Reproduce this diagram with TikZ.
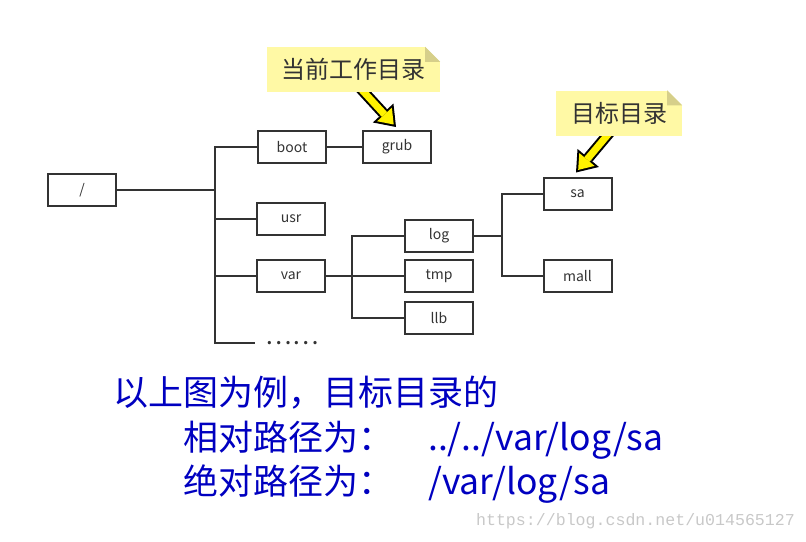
\documentclass[tikz,border=0pt]{standalone}
\usepackage{fontspec}
\setmainfont{Noto Sans CJK SC}
\newfontfamily\urlfont{Liberation Mono}
\usetikzlibrary{arrows.meta}
\usetikzlibrary{backgrounds}

\definecolor{wirecol}{RGB}{51,51,51}
\definecolor{notefill}{RGB}{255,249,165}
\definecolor{notefold}{RGB}{214,207,138}
\definecolor{pathblue}{RGB}{0,0,192}
\definecolor{markgray}{RGB}{200,200,200}

\tikzset{
  dirbox/.style={draw=wirecol, line width=2pt, minimum width=68pt,
    minimum height=32pt, inner sep=0pt, text=wirecol,
    font=\fontsize{14}{14}\selectfont},
  wire/.style={draw=wirecol, line width=2pt},
  note/.style={fill=notefill, minimum height=45pt, inner sep=0pt,
    text=wirecol, font=\fontsize{24}{24}\selectfont},
  pointer/.style={line width=11pt, black,
    -{Triangle[length=19pt,width=28pt,line width=0pt]}},
  pointerfill/.style={line width=7pt, yellow, shorten >=3.4pt,
    -{Triangle[length=13.6pt,width=20pt,line width=0pt]}},
  bigtext/.style={anchor=base west, inner sep=0pt, text=pathblue,
    font=\fontsize{35}{35}\selectfont}
}

\begin{document}
\begin{tikzpicture}[x=1pt,y=-1pt]
\useasboundingbox (0,0) rectangle (806,541);

\node[dirbox] (root) at (82,190) {/};
\node[dirbox] (boot) at (292,147) {boot};
\node[dirbox] (grub) at (397,147) {grub};
\node[dirbox] (usr) at (291,219) {usr};
\node[dirbox] (var) at (291,276) {var};
\node[inner sep=10pt, text=wirecol, font=\fontsize{25}{25}\selectfont] (more) at (292,343) {……};
\node[dirbox] (log) at (439,235.5) {log};
\node[dirbox] (tmp) at (439,276) {tmp};
\node[dirbox] (llb) at (439,318) {llb};
\node[dirbox] (sa) at (577.5,193.5) {sa};
\node[dirbox] (mall) at (577.5,276) {mall};

\coordinate (j1) at (215,0);
\coordinate (j2) at (352,0);
\coordinate (j3) at (502,0);

\draw[wire] (root) -- (root -| j1);
\draw[wire] (boot) -| (j1 |- more) -- (more);
\draw[wire] (usr) -- (usr -| j1);
\draw[wire] (var) -- (var -| j1);
\draw[wire] (boot) -- (grub);
\draw[wire] (var) -- (tmp);
\draw[wire] (log) -| (j2 |- llb) -- (llb);
\draw[wire] (log) -- (log -| j3);
\draw[wire] (sa) -| (j3 |- mall) -- (mall);

\node[note, minimum width=173pt] (cur) at (353.5,69.5) {当前工作目录};
\fill[white] (cur.north east) -- ++(-15,0) -- ++(15,15) -- cycle;
\fill[notefold] ([xshift=-15pt]cur.north east) -- ++(0,15) -- ++(15,0) -- cycle;
\node[note, minimum width=126pt] (dst) at (619,113) {目标目录};
\fill[white] (dst.north east) -- ++(-15,0) -- ++(15,15) -- cycle;
\fill[notefold] ([xshift=-15pt]dst.north east) -- ++(0,15) -- ++(15,0) -- cycle;

\begin{scope}[on background layer]
\draw[pointer] ([xshift=5pt,yshift=6pt]cur.south) -- ([xshift=-1pt,yshift=3pt]grub.north);
\draw[pointerfill] ([xshift=5pt,yshift=6pt]cur.south) -- ([xshift=-1pt,yshift=3pt]grub.north);
\draw[pointer] ([xshift=-7pt,yshift=6pt]dst.south) -- ([xshift=-1.5pt,yshift=4pt]sa.north);
\draw[pointerfill] ([xshift=-7pt,yshift=6pt]dst.south) -- ([xshift=-1.5pt,yshift=4pt]sa.north);
\end{scope}

\node[bigtext] (line1) at (113,405) {以上图为例，目标目录的};
\node[bigtext] (rel) at (183,450) {相对路径为：};
\node[bigtext, font=\fontsize{35.5}{35.5}\selectfont] (relpath) at (428,450) {../../var/log/sa};
\node[bigtext] (abs) at (183,494) {绝对路径为：};
\node[bigtext, font=\fontsize{35.5}{35.5}\selectfont] (abspath) at (428,494) {/var/log/sa};

\node[text=markgray, font=\urlfont\fontsize{16.6}{16.6}\selectfont] (mark) at (635.5,521) {https://blog.csdn.net/u014565127};
\end{tikzpicture}
\end{document}
